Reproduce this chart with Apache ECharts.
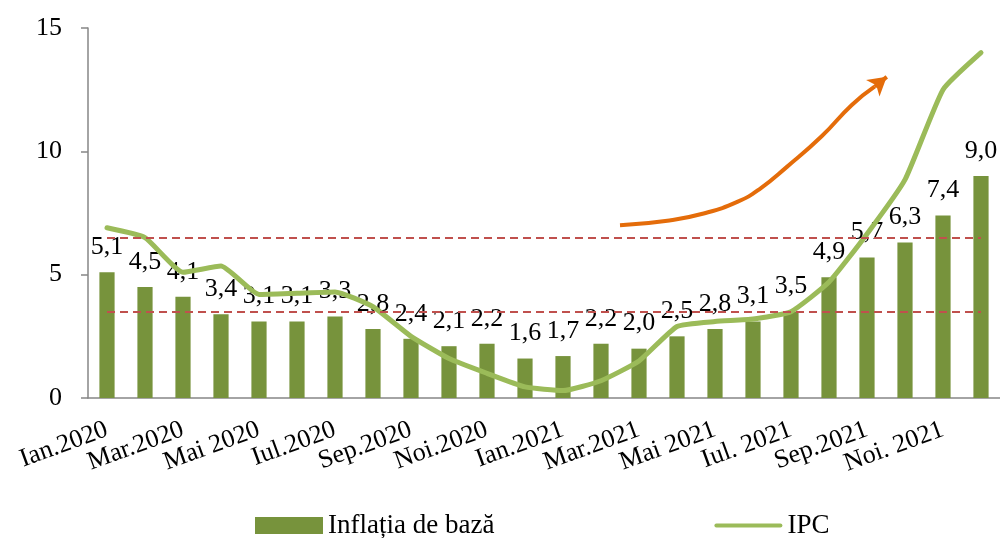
<!DOCTYPE html>
<html>
<head>
<meta charset="utf-8">
<script src="https://cdn.jsdelivr.net/npm/echarts@6/dist/echarts.min.js"></script>
<style>
html,body{margin:0;padding:0;background:#fff;}
#chart{width:1000px;height:538px;}
</style>
</head>
<body>
<div id="chart"></div>
<script>
const categories = ["Ian.2020","Feb.2020","Mar.2020","Apr.2020","Mai 2020","Iun.2020","Iul.2020","Aug.2020","Sep.2020","Oct.2020","Noi.2020","Dec.2020","Ian.2021","Feb.2021","Mar.2021","Apr.2021","Mai 2021","Iun.2021","Iul. 2021","Aug.2021","Sep.2021","Oct.2021","Noi. 2021","Dec.2021"];
const coreInflation = [5.1,4.5,4.1,3.4,3.1,3.1,3.3,2.8,2.4,2.1,2.2,1.6,1.7,2.2,2.0,2.5,2.8,3.1,3.5,4.9,5.7,6.3,7.4,9.0];
const ipc = [6.9,6.5,5.1,5.35,4.2,4.25,4.3,3.7,2.5,1.6,1.0,0.45,0.3,0.7,1.5,2.9,3.1,3.2,3.5,4.7,6.65,8.85,12.5,14.0];
const targetBand = [3.5, 6.5];
const yTicks = {min:0, max:15, interval:5};
const arrowPath = [[13.5,7.0],[14.8,7.2],[15.7,7.48],[16.6,7.96],[17.2,8.5],[17.9,9.38],[18.8,10.6],[19.6,11.88],[20.2,12.62],[20.52,13.02]];

const FONT = '"Liberation Serif", "DejaVu Serif", serif';
const chart = echarts.init(document.getElementById('chart'));

const bandLines = targetBand.map(v => [
  {coord:[categories[0], v]},
  {coord:[categories[categories.length-1], v]}
]);
const nA = arrowPath.length;

chart.setOption({
  animation:false,
  grid:{left:88, right:0, top:28, bottom:140, containLabel:false, outerBoundsMode:'none'},
  legend:{
    data:[
      {name:'Inflația de bază', icon:'rect'},
      {name:'IPC', icon:'path://M2,0 L66,0 A2,2 0 0 1 66,4 L2,4 A2,2 0 0 1 2,0 Z', itemStyle:{color:'#9BBB59'}}
    ],
    left:250, top:507,
    itemWidth:68, itemHeight:17, itemGap:220,
    textStyle:{fontFamily:FONT, fontSize:27, color:'#000'}
  },
  xAxis:[{
    type:'category', data:categories,
    axisLine:{lineStyle:{color:'#868686', width:1.5}},
    axisTick:{interval:1, length:7, lineStyle:{color:'#868686', width:1.5}},
    axisLabel:{interval:1, rotate:20, margin:31, showMinLabel:true, hideOverlap:false,
      fontFamily:FONT, fontSize:26, color:'#000'}
  },{
    type:'value', min:-0.5, max:categories.length-0.5, show:false
  }],
  yAxis:[{
    type:'value', min:yTicks.min, max:yTicks.max, interval:yTicks.interval,
    splitLine:{show:false},
    axisLine:{show:true, onZero:false, lineStyle:{color:'#868686', width:1.5}},
    axisTick:{show:true, length:7, lineStyle:{color:'#868686', width:1.5}},
    axisLabel:{margin:26, fontFamily:FONT, fontSize:26, color:'#000'}
  }],
  series:[
    {
      name:'Inflația de bază', type:'bar', data:coreInflation,
      barWidth:'40%',
      itemStyle:{color:'#77933C'},
      label:{show:true, position:'top', distance:12, fontFamily:FONT, fontSize:26, color:'#000',
        formatter: p => p.value.toFixed(1).replace('.', ',')},
      markLine:{
        silent:true, symbol:'none', label:{show:false},
        lineStyle:{color:'#C0504D', width:2, type:[8,5]},
        data:bandLines
      },
      z:2
    },
    {
      name:'IPC', type:'line', data:ipc, smooth:0.15,
      symbol:'none', showSymbol:false,
      lineStyle:{color:'#9BBB59', width:5, cap:'round', join:'round'},
      itemStyle:{color:'#9BBB59'},
      z:3
    },
    {
      name:'arrow', type:'line', xAxisIndex:1, yAxisIndex:0, data:arrowPath.slice(0, nA-1), smooth:true,
      symbol:'none', showSymbol:false,
      lineStyle:{color:'#E46C0A', width:4},
      markLine:{
        silent:true, symbol:['none','arrow'], symbolSize:[16,18], label:{show:false},
        lineStyle:{color:'#E46C0A', width:4, type:'solid'},
        data:[[{coord:arrowPath[nA-2]}, {coord:arrowPath[nA-1]}]]
      },
      z:4, silent:true
    }
  ]
});
</script>
</body>
</html>
